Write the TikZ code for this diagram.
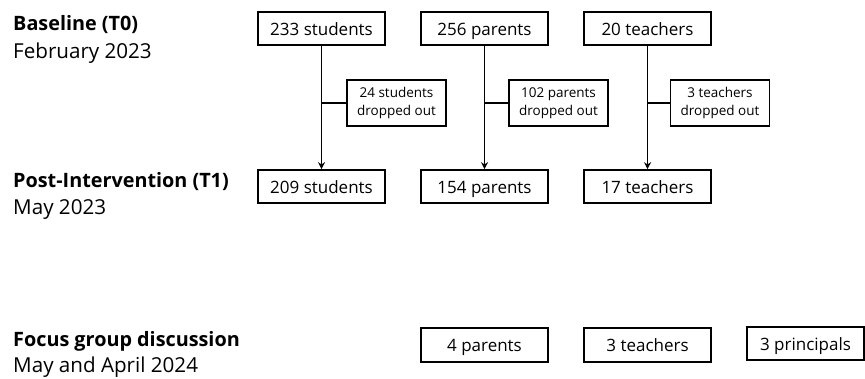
\documentclass[tikz,border=0pt]{standalone}
\usepackage{fontspec}
\setmainfont{Open Sans}
\usetikzlibrary{arrows.meta}
\tikzset{
  box/.style={draw, line width=1.6pt, minimum width=127pt, minimum height=33pt, inner sep=0pt, text height=14pt, text depth=0pt, font=\fontsize{17}{20}\selectfont},
  dropbox/.style={draw, line width=1.6pt, minimum width=99pt, minimum height=46pt, inner sep=0pt, align=center, font=\fontsize{13.5}{18}\selectfont},
  fbox/.style={draw, line width=1.6pt, minimum width=127pt, minimum height=34pt, inner sep=0pt, text height=14pt, text depth=0pt, font=\fontsize{17}{20}\selectfont},
  flow/.style={line width=1.6pt, -{Stealth[length=7pt,width=7pt]}},
  branch/.style={line width=1.6pt},
  head/.style={anchor=base west, inner sep=0pt, font=\bfseries\fontsize{19.8}{22}\selectfont},
  sub/.style={anchor=base west, inner sep=0pt, font=\fontsize{20.6}{22}\selectfont},
}
\begin{document}
\begin{tikzpicture}[x=1pt,y=-1pt]
\useasboundingbox (0,0) rectangle (865,379);
% left labels
\node[head] (h0) at (13,31) {Baseline (T0)};
\node[sub] (d0) at (13,59) {February 2023};
\node[head] (h1) at (13,188) {Post-Intervention (T1)};
\node[sub] (d1) at (13,215) {May 2023};
\node[head] (h2) at (13,347) {Focus group discussion};
\node[sub] (d2) at (13,373) {May and April 2024};
% baseline boxes
\node[box] (s0) at (321.5,28.5) {233 students};
\node[box] (p0) at (484.5,28.5) {256 parents};
\node[box] (t0) at (647.5,28.5) {20 teachers};
% post boxes
\node[box] (s1) at (321.5,186.5) {209 students};
\node[box] (p1) at (484.5,186.5) {154 parents};
\node[box] (t1) at (647.5,186.5) {17 teachers};
% drop-out boxes
\node[dropbox] (ds) at (396.5,103) {24 students\\dropped out};
\node[dropbox] (dp) at (558.5,103) {102 parents\\dropped out};
\node[dropbox] (dt) at (720,103) {3 teachers\\dropped out};
% focus group boxes
\node[fbox] (f1) at (484.5,345) {4 parents};
\node[fbox] (f2) at (647.5,345) {3 teachers};
\node[fbox, minimum width=117pt, minimum height=33pt] (f3) at (805.5,343.5) {3 principals};
% connectors
\draw[flow] (s0) -- (s1);
\draw[flow] (p0) -- (p1);
\draw[flow] (t0) -- (t1);
\draw[branch] (ds.west) -- (ds.west -| s0);
\draw[branch] (dp.west) -- (dp.west -| p0);
\draw[branch] (dt.west) -- (dt.west -| t0);
\end{tikzpicture}
\end{document}
